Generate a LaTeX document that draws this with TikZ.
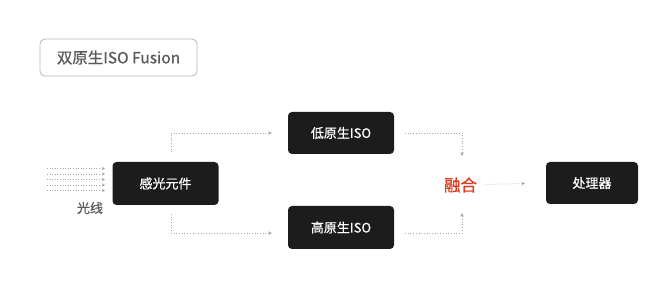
\documentclass[tikz,border=0pt]{standalone}
\usepackage{fontspec}
\setmainfont{Noto Sans CJK SC}
\newfontfamily\medfont[FakeBold=0.6]{Noto Sans CJK SC}
\usetikzlibrary{arrows.meta,calc}
\definecolor{boxfill}{HTML}{1C1C1C}
\definecolor{lineg}{HTML}{A8A8A8}
\definecolor{fusered}{HTML}{DD3B1E}
\definecolor{titleg}{HTML}{5A5A5A}
\tikzset{
  blk/.style={fill=boxfill, rounded corners=4pt, text=white, font=\medfont\fontsize{13}{14}\selectfont, inner sep=0pt},
  conn/.style={draw=lineg, line width=0.7pt, dotted, -{Stealth[length=3.5pt,width=3.5pt]}},
  ray/.style={draw=lineg, line width=0.6pt, dotted, -{Stealth[length=3pt,width=3pt]}}
}
\begin{document}
\begin{tikzpicture}[x=1pt,y=-1pt]
\useasboundingbox (0,0) rectangle (670,296);
\fill[white] (0,0) rectangle (670,296);
% title
\node[draw=black!28, line width=0.8pt, rounded corners=5pt, minimum width=157pt, minimum height=37pt, text=titleg, font=\medfont\fontsize{15.5}{17}\selectfont, inner sep=0pt] (title) at (118.5,57.5) {双原生ISO Fusion};
% boxes
\node[blk, minimum width=106pt, minimum height=43pt] (sensor) at (165.5,183.5) {感光元件};
\node[blk, minimum width=106pt, minimum height=42pt] (low) at (341,133) {低原生ISO};
\node[blk, minimum width=106pt, minimum height=43pt] (high) at (341,227.5) {高原生ISO};
\node[blk, minimum width=92pt, minimum height=42pt] (proc) at (592,183) {处理器};
\node[text=fusered, font=\medfont\fontsize{16.5}{18}\selectfont, inner sep=0pt] (fuse) at (460.5,185) {融合};
\node[text=titleg, font=\medfont\fontsize{13}{14}\selectfont, inner sep=0pt] (light) at (90,208) {光线};
% rays
\foreach \i/\y in {1/168.5,2/174,3/179.5,4/185,5/190.5}{
  \coordinate (rs\i) at (47,\y);
  \coordinate (re\i) at (105,\y);
  \draw[ray] (rs\i) -- (re\i);
}
% connectors
\coordinate (tl) at (171,152);
\coordinate (bl) at (171,214);
\coordinate (tr) at (462,156);
\coordinate (br) at (462,213);
\coordinate (lowout) at (405,133);
\coordinate (highout) at (405,233);
\draw[conn, shorten >=16pt] (tl) |- (low.west);
\draw[conn] (bl) |- ($(high.west)+(-16,5.5)$);
\draw[conn] (lowout) -| (tr);
\draw[conn] (highout) -| (br);
\draw[conn, shorten <=26pt, shorten >=21pt] (fuse.center) -- (proc.west);
\end{tikzpicture}
\end{document}
